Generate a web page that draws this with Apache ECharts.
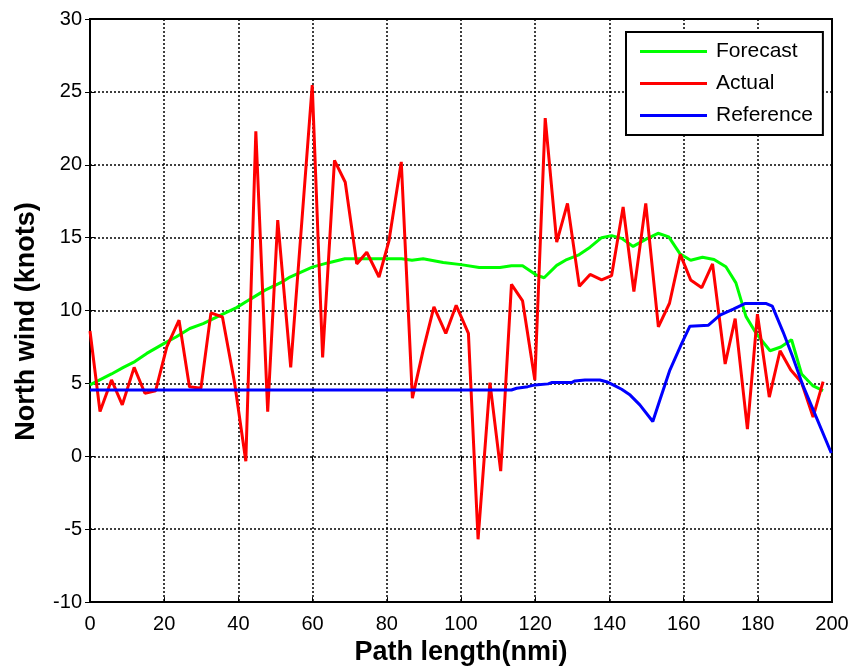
<!DOCTYPE html>
<html>
<head>
<meta charset="utf-8">
<script src="https://cdn.jsdelivr.net/npm/echarts@6/dist/echarts.min.js"></script>
<style>
html,body{margin:0;padding:0;background:#fff;}
#chart{width:856px;height:671px;}
</style>
</head>
<body>
<div id="chart"></div>
<script>
var xTicks = [0, 20, 40, 60, 80, 100, 120, 140, 160, 180, 200];
var yTicks = [-10, -5, 0, 5, 10, 15, 20, 25, 30];

var forecastX = [0, 5.8, 9, 12.1, 15.3, 20, 23.3, 26.9, 30.5, 35.5, 39.5, 42.7, 47.2, 51.7, 53.9, 59.9, 63.8, 68.7, 74.6, 84, 86.8, 89.8, 95.2, 100, 104.9, 110.5, 113.6, 116.6, 120.2, 122.4, 125.8, 128.5, 131.6, 134.8, 137.9, 140.6, 143.3, 146.4, 149.9, 153.1, 156, 159, 161.9, 165.1, 168.2, 171.4, 174.1, 176.8, 179.7, 183.3, 186.2, 189.1, 191.8, 194.9, 197.6];
var forecastY = [4.9, 5.65, 6.1, 6.5, 7.06, 7.75, 8.2, 8.77, 9.1, 9.72, 10.2, 10.7, 11.4, 11.95, 12.3, 12.98, 13.25, 13.55, 13.55, 13.55, 13.45, 13.55, 13.3, 13.15, 12.95, 12.95, 13.07, 13.07, 12.45, 12.25, 13.1, 13.5, 13.8, 14.35, 15.0, 15.14, 14.95, 14.4, 14.9, 15.3, 15.05, 13.9, 13.45, 13.66, 13.5, 13.0, 11.9, 9.6, 8.38, 7.24, 7.5, 8.0, 5.65, 4.83, 4.5];

var actualX = [0, 2.7, 5.8, 8.7, 11.9, 14.8, 17.7, 20.7, 24, 26.8, 29.9, 32.6, 35.7, 39, 42, 44.7, 47.9, 50.6, 54.1, 59.9, 62.7, 65.9, 68.8, 71.9, 74.6, 77.9, 80.6, 83.9, 86.9, 89.8, 92.7, 95.9, 98.7, 102, 104.6, 107.8, 110.7, 113.6, 116.6, 119.9, 122.7, 125.8, 128.7, 131.9, 134.8, 137.9, 140.6, 143.7, 146.6, 149.8, 153.2, 156.2, 159.1, 161.9, 164.9, 167.8, 171.2, 173.9, 177.2, 179.9, 183.1, 186, 188.9, 191.8, 194.9, 197.6];
var actualY = [8.6, 3.07, 5.24, 3.53, 6.1, 4.33, 4.5, 7.5, 9.34, 4.78, 4.67, 9.84, 9.56, 5.0, -0.34, 22.3, 3.07, 16.2, 6.1, 25.46, 6.79, 20.3, 18.8, 13.2, 14.0, 12.3, 14.8, 20.2, 3.99, 7.29, 10.25, 8.43, 10.36, 8.43, -5.69, 5.06, -1.02, 11.8, 10.66, 5.24, 23.2, 14.7, 17.35, 11.66, 12.48, 12.1, 12.4, 17.1, 11.3, 17.35, 8.88, 10.5, 13.85, 12.1, 11.57, 13.2, 6.33, 9.45, 1.87, 9.75, 4.06, 7.24, 5.92, 5.06, 2.69, 5.12];

var referenceX = [0, 113.6, 115, 118, 120, 123.5, 124.4, 129.8, 130.7, 133.4, 137.4, 139.2, 141, 143.3, 145.6, 148.2, 151.7, 153.6, 156.3, 159.5, 161.7, 166.7, 169.8, 173.4, 176.5, 182.3, 183.9, 186.8, 189.4, 192.1, 195.3, 199.8];
var referenceY = [4.55, 4.55, 4.67, 4.78, 4.9, 4.97, 5.06, 5.06, 5.17, 5.24, 5.24, 5.12, 4.9, 4.6, 4.2, 3.53, 2.39, 3.87, 5.92, 7.75, 8.93, 9.0, 9.68, 10.1, 10.48, 10.48, 10.3, 8.54, 6.83, 4.9, 2.96, 0.23];

function pairs(xs, ys) { return xs.map(function (x, i) { return [x, ys[i]]; }); }

var chart = echarts.init(document.getElementById('chart'), null, { renderer: 'canvas' });
var font = 'Liberation Sans, Arial, sans-serif';
var gridLine = { show: true, lineStyle: { color: '#000', width: 1.5, type: [2, 2] } };

var option = {
  backgroundColor: '#fff',
  animation: false,
  grid: { left: 90, right: 24, top: 19, bottom: 68, show: true, borderColor: '#000', borderWidth: 2, backgroundColor: '#fff' },
  legend: {
    orient: 'vertical',
    left: 626, top: 32,
    padding: [9, 10, 9, 14],
    itemGap: 11,
    itemWidth: 67, itemHeight: 3,
    icon: 'rect',
    backgroundColor: '#fff',
    borderColor: '#000', borderWidth: 2,
    textStyle: { fontFamily: font, fontSize: 21, color: '#000', lineHeight: 21, padding: [0, 0, 0, 4] },
    data: ['Forecast', 'Actual', 'Reference']
  },
  xAxis: [{
    type: 'value', min: xTicks[0], max: xTicks[xTicks.length - 1], interval: 20,
    name: 'Path length(nmi)', nameLocation: 'middle', nameGap: 36,
    nameTextStyle: { fontFamily: font, fontSize: 27, fontWeight: 'bold', color: '#000' },
    axisLine: { show: true, onZero: false, lineStyle: { color: '#000', width: 2 } },
    axisTick: { show: true, inside: true, length: 5, lineStyle: { color: '#000' } },
    axisLabel: { fontFamily: font, fontSize: 20, color: '#000', margin: 12 },
    splitLine: gridLine
  }, {
    type: 'value', position: 'top', min: xTicks[0], max: xTicks[xTicks.length - 1], interval: 20,
    axisLine: { show: false }, axisLabel: { show: false }, splitLine: { show: false },
    axisTick: { show: true, inside: true, length: 5, lineStyle: { color: '#000' } }
  }],
  yAxis: [{
    type: 'value', min: yTicks[0], max: yTicks[yTicks.length - 1], interval: 5,
    name: 'North wind (knots)', nameLocation: 'middle', nameGap: 50, nameRotate: 90,
    nameTextStyle: { fontFamily: font, fontSize: 27, fontWeight: 'bold', color: '#000', padding: [0, 22, 0, 0] },
    axisLine: { show: true, onZero: false, lineStyle: { color: '#000', width: 2 } },
    axisTick: { show: true, inside: true, length: 5, lineStyle: { color: '#000' } },
    axisLabel: { fontFamily: font, fontSize: 20, color: '#000', margin: 8 },
    splitLine: gridLine
  }, {
    type: 'value', position: 'right', min: yTicks[0], max: yTicks[yTicks.length - 1], interval: 5,
    axisLine: { show: false }, axisLabel: { show: false }, splitLine: { show: false },
    axisTick: { show: true, inside: true, length: 5, lineStyle: { color: '#000' } }
  }],
  series: [
    { name: 'Forecast', type: 'line', data: pairs(forecastX, forecastY), showSymbol: false, symbol: 'none', color: '#00ff00', lineStyle: { width: 3, color: '#00ff00' } },
    { name: 'Actual', type: 'line', data: pairs(actualX, actualY), showSymbol: false, symbol: 'none', color: '#ff0000', lineStyle: { width: 3, color: '#ff0000' } },
    { name: 'Reference', type: 'line', data: pairs(referenceX, referenceY), showSymbol: false, symbol: 'none', color: '#0000ff', lineStyle: { width: 3, color: '#0000ff' } }
  ]
};
chart.setOption(option);
</script>
</body>
</html>
